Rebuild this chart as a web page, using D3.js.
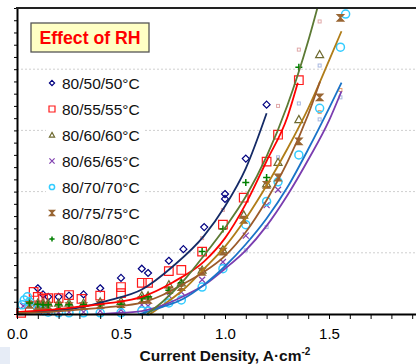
<!DOCTYPE html>
<html>
<head>
<meta charset="utf-8">
<script src="https://cdn.jsdelivr.net/npm/d3@7"></script>
<style>
  body { margin: 0; background: #fff; }
  svg { display: block; font-family: "Liberation Sans", Arial, sans-serif; }
</style>
</head>
<body>
<svg id="chart" width="416" height="364"></svg>
<script>

// measured points: [current density (A/cm2), value]
var rh50 = [[0.1,21],[0.125,16],[0.15,14],[0.2,14],[0.25,15],[0.32,16],[0.4,21],[0.5,29.5],[0.6,37],[0.63,33.5],
            [0.73,43.5],[0.8,53],[0.9,71],[1.0,98],[1.0,94],[1.1,127],[1.2,171]];
var rh55 = [[0.02,1],[0.08,18],[0.1,14],[0.125,12.3],[0.15,13],[0.2,13],[0.25,15.5],[0.31,12.3],[0.4,15],[0.5,22],
            [0.5,17],[0.6,25.5],[0.63,25.5],[0.73,35],[0.79,36],[0.89,51],[0.99,73],[1.09,95],[1.2,124.5],[1.255,146.5],[1.355,191]];
var rh60 = [[0.06,10],[0.1,9],[0.125,9],[0.15,9],[0.2,9],[0.25,9],[0.32,9],[0.4,10],[0.5,10.5],[0.6,15],[0.63,15],
            [0.73,24],[0.79,25.5],[0.89,36],[0.99,52.5],[1.09,81],[1.2,106.5],[1.255,124],[1.355,159],[1.455,212]];
var rh65 = [[0.03,6.5],[0.06,7.5],[0.1,3.5],[0.125,1.5],[0.15,1],[0.2,1],[0.25,1.5],[0.32,1.5],[0.4,2.5],[0.5,3.5],
            [0.6,7.5],[0.63,6.5],[0.73,15],[0.79,18],[0.89,28],[0.99,42.5],[1.1,64],[1.2,89],[1.255,101.5]];
var rh70 = [[0.025,7.5],[0.035,11.5],[0.05,14],[0.06,10],[0.1,4],[0.125,2.5],[0.15,1.5],[0.2,1],[0.25,1],[0.32,1],
            [0.4,1],[0.5,1],[0.6,2.5],[0.63,2.5],[0.73,9],[0.79,11.5],[0.89,22],[0.99,37],[1.1,73],[1.2,92],
            [1.255,108],[1.355,130],[1.455,168],[1.555,218],[1.58,245]];
var rh75 = [[0.06,7.5],[0.1,6.5],[0.125,6.5],[0.15,6.5],[0.2,6.5],[0.25,6.5],[0.32,6.5],[0.4,7.5],[0.5,8],[0.6,11.5],
            [0.63,11.5],[0.73,19.5],[0.79,22],[0.89,34.5],[0.99,51],[1.09,77],[1.2,105.5],[1.255,111.5],[1.355,141],
            [1.455,177],[1.555,242]];
var rh80 = [[0.06,9],[0.1,8],[0.125,7.5],[0.15,7.5],[0.2,7.5],[0.25,7.5],[0.32,7.5],[0.4,7.5],[0.5,8],[0.6,13],
            [0.63,14],[0.73,19.5],[0.79,25.5],[0.89,51],[0.99,69.5],[1.1,107.5],[1.2,111.5],[1.355,201.5]];

// small faint points (no legend entry)
var extraPink = [[0.89,62],[0.99,85],[1.255,170],[1.355,216],[1.455,239]];
var extraBlue = [[1.1,52],[1.2,71],[1.255,128],[1.355,172],[1.455,203],[1.455,159],[1.555,177]];
var extraOrange = [[1.455,165],[1.555,183]];

// trend lines
var fit50 = [[0,1],[0.15,2.5],[0.3,5.3],[0.45,11.5],[0.6,20],[0.75,39],[0.9,64],[1.0,88],[1.1,119],[1.2,164]];
var fit55 = [[0,1.6],[0.15,3.3],[0.3,6],[0.45,9],[0.6,14],[0.75,26],[0.9,43],[1.0,62],[1.1,90],[1.2,125],[1.3,161],[1.35,189]];
var fit60 = [[0.64,0],[0.7,7],[0.8,20],[0.9,37],[1.0,55],[1.1,78],[1.2,105],[1.3,135],[1.4,168],[1.5,207],[1.56,231]];
var fit65 = [[0,-1],[0.3,-1],[0.45,0.5],[0.6,2.4],[0.7,7],[0.8,14.5],[0.9,23.6],[1.0,37],[1.1,52],[1.2,72],[1.3,97],[1.4,126],[1.5,158],[1.56,182]];
var fit70 = [[0.59,0],[0.7,5.8],[0.8,12.5],[0.9,24],[1.0,39],[1.1,57],[1.2,78],[1.3,103.5],[1.4,134.6],[1.5,168],[1.56,189]];
var fit75 = [[0,0.8],[0.15,1.6],[0.3,3.6],[0.45,5.8],[0.6,9.2],[0.7,15.5],[0.8,24.5],[0.9,34.5],[1.0,47.5],[1.1,67],[1.2,93],[1.3,124],[1.4,163],[1.457,190]];
var fit80 = [[0.625,0],[0.7,10],[0.8,27],[0.9,48],[1.0,70.5],[1.1,96],[1.2,128.7],[1.3,170.5],[1.4,223],[1.46,260]];

var seriesNames = ["80/50/50°C", "80/55/55°C", "80/60/60°C", "80/65/65°C", "80/70/70°C", "80/75/75°C", "80/80/80°C"];
var xTicks = [0, 0.5, 1.0, 1.5];
var xTickLabels = ["0.0", "0.5", "1.0", "1.5"];

var series = [
  {name: seriesNames[0], data: rh50, fit: fit50, marker: "diamond",   color: "#000080", line: "#142a66"},
  {name: seriesNames[1], data: rh55, fit: fit55, marker: "square",    color: "#ff1a1a", line: "#ff0000"},
  {name: seriesNames[2], data: rh60, fit: fit60, marker: "triangle",  color: "#6e6a30", line: "#b07d18"},
  {name: seriesNames[3], data: rh65, fit: fit65, marker: "x",         color: "#8040b0", line: "#7a3db0"},
  {name: seriesNames[4], data: rh70, fit: fit70, marker: "circle",    color: "#33ccff", line: "#1a73c8"},
  {name: seriesNames[5], data: rh75, fit: fit75, marker: "hourglass", color: "#996633", line: "#9b5b2b"},
  {name: seriesNames[6], data: rh80, fit: fit80, marker: "plus",      color: "#008000", line: "#5c7a34"}
];

var svg = d3.select("#chart");

var x = d3.scaleLinear().domain([0, 2]).range([17, 433]),
    y = d3.scaleLinear().domain([0, 250]).range([314, 8]);

function markerPath(type, r) {
  switch (type) {
    case "diamond":   return "M0," + (-r) + "L" + r + ",0L0," + r + "L" + (-r) + ",0Z";
    case "square":    return "M" + (-r) + "," + (-r) + "h" + 2 * r + "v" + 2 * r + "h" + (-2 * r) + "Z";
    case "triangle":  return "M0," + (-r) + "L" + r + "," + (r * 0.8) + "L" + (-r) + "," + (r * 0.8) + "Z";
    case "x":         return "M" + (-r) + "," + (-r) + "L" + r + "," + r + "M" + (-r) + "," + r + "L" + r + "," + (-r);
    case "circle":    return "M" + r + ",0A" + r + "," + r + " 0 1,1 " + (-r) + ",0A" + r + "," + r + " 0 1,1 " + r + ",0Z";
    case "hourglass": return "M" + (-r) + "," + (-r) + "L" + r + "," + (-r) + "L" + (-r) + "," + r + "L" + r + "," + r + "Z";
    case "plus":      return "M" + (-r) + ",0H" + r + "M0," + (-r) + "V" + r;
  }
}

function styleMarker(sel, s) {
  var filled = s.marker === "hourglass";
  sel.attr("fill", filled ? s.color : "none")
     .attr("stroke", s.color)
     .attr("stroke-width", s.marker === "plus" || s.marker === "circle" ? 1.5 : 1.2);
}

var markerSize = {diamond: 3.5, square: 4.3, triangle: 4, x: 3, circle: 4, hourglass: 3.3, plus: 3.5};

// little blue patch at the bottom-left corner
svg.append("rect").attr("x", 0).attr("y", 347).attr("width", 10).attr("height", 17).attr("fill", "#e6ecf6");

svg.append("defs").append("clipPath").attr("id", "plotclip")
  .append("rect")
  .attr("x", x(0)).attr("y", y(250))
  .attr("width", x(2) - x(0)).attr("height", y(0) - y(250));

// gridlines
svg.append("g")
  .selectAll("line")
  .data([50, 100, 150, 200])
  .enter().append("line")
  .attr("x1", x(0)).attr("x2", x(2))
  .attr("y1", function(d) { return y(d); })
  .attr("y2", function(d) { return y(d); })
  .attr("stroke", "#cfcfcf")
  .attr("stroke-dasharray", "2,2");

// faint extra points
var extras = [
  {data: extraPink, color: "#e0a8a8"},
  {data: extraBlue, color: "#a8b8e0"},
  {data: extraOrange, color: "#e8a070"}
];
extras.forEach(function(e) {
  svg.append("g").selectAll("rect")
    .data(e.data)
    .enter().append("rect")
    .attr("x", function(d) { return x(d[0]) - 1.5; })
    .attr("y", function(d) { return y(d[1]) - 1.5; })
    .attr("width", 3).attr("height", 3)
    .attr("fill", "none")
    .attr("stroke", e.color);
});

// markers
series.forEach(function(s) {
  svg.append("g")
    .attr("class", "points")
    .selectAll("path")
    .data(s.data)
    .enter().append("path")
    .attr("transform", function(d) { return "translate(" + x(d[0]) + "," + y(d[1]) + ")"; })
    .attr("d", markerPath(s.marker, markerSize[s.marker]))
    .call(styleMarker, s);
});

// trend lines
var line = d3.line()
  .curve(d3.curveMonotoneX)
  .x(function(d) { return x(d[0]); })
  .y(function(d) { return y(d[1]); });

svg.append("g")
  .attr("clip-path", "url(#plotclip)")
  .selectAll("path")
  .data(series)
  .enter().append("path")
  .attr("d", function(s) { return line(s.fit); })
  .attr("fill", "none")
  .attr("stroke", function(s) { return s.line; })
  .attr("stroke-width", 1.8);

// axes
svg.append("g")
  .attr("transform", "translate(0," + y(0) + ")")
  .call(d3.axisBottom(x).tickValues(d3.range(0, 20).map(function(i) { return i / 10; }))
        .tickFormat("").tickSize(5).tickSizeOuter(0))
  .call(function(g) {
    g.select(".domain").attr("stroke", "#000").attr("stroke-width", 2.2);
    g.selectAll(".tick line").attr("stroke", "#000");
  });

svg.append("g")
  .attr("transform", "translate(0," + y(0) + ")")
  .call(d3.axisBottom(x).tickValues(xTicks).tickSize(5).tickPadding(9)
        .tickFormat(function(d, i) { return xTickLabels[i]; }))
  .call(function(g) {
    g.select(".domain").remove();
    g.selectAll(".tick line").remove();
    g.selectAll("text").attr("font-size", "15px").attr("fill", "#000")
      .attr("font-family", "'Liberation Sans', Arial, sans-serif");
  });

svg.append("g")
  .attr("transform", "translate(" + x(0) + ",0)")
  .call(d3.axisLeft(y).tickValues(d3.range(0, 251, 10)).tickFormat("").tickSize(3).tickSizeOuter(0))
  .call(function(g) {
    g.select(".domain").attr("stroke", "#000").attr("stroke-width", 2);
    g.selectAll(".tick line").attr("stroke", "#000");
  });

// top frame
svg.append("line")
  .attr("x1", x(0) - 1).attr("x2", x(2))
  .attr("y1", y(250)).attr("y2", y(250))
  .attr("stroke", "#222").attr("stroke-width", 2);

// axis title
var xt = svg.append("text")
  .attr("x", x(1)).attr("y", 361)
  .attr("text-anchor", "middle")
  .attr("font-size", "15.5px")
  .attr("font-weight", "bold")
  .attr("fill", "#111");
xt.append("tspan").text("Current Density, A·cm");
xt.append("tspan").attr("dy", -6).attr("font-size", "10px").text("-2");

// title box
svg.append("rect")
  .attr("x", 31).attr("y", 23).attr("width", 118).attr("height", 29)
  .attr("fill", "#ffffc4").attr("stroke", "#555").attr("stroke-width", 1.3);
svg.append("text")
  .attr("x", 90).attr("y", 44)
  .attr("text-anchor", "middle")
  .attr("font-size", "17.7px")
  .attr("font-weight", "bold")
  .attr("fill", "#ff0000")
  .text("Effect of RH");

// legend
var legend = svg.append("g").selectAll("g")
  .data(series)
  .enter().append("g")
  .attr("transform", function(d, i) { return "translate(52," + (83 + i * 26) + ")"; });

legend.append("rect")
  .attr("x", -6).attr("y", -9).attr("width", 98).attr("height", 18)
  .attr("fill", "#fff");

legend.append("path")
  .attr("d", function(s) { return markerPath(s.marker, s.marker === "square" ? 3 : 2.6); })
  .each(function(s) { d3.select(this).call(styleMarker, s); });

legend.append("text")
  .attr("x", 10).attr("dy", "0.36em")
  .attr("font-size", "15.5px")
  .attr("fill", "#111")
  .text(function(s) { return s.name; });

</script>
</body>
</html>
